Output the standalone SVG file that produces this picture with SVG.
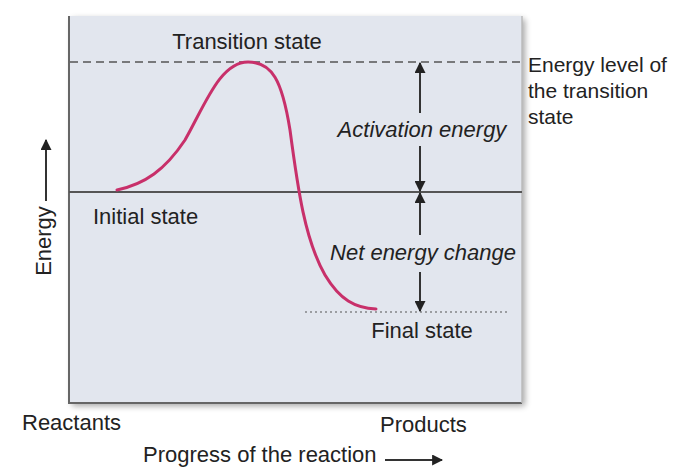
<svg xmlns="http://www.w3.org/2000/svg" width="673" height="472" viewBox="0 0 673 472">
<defs>
<marker id="ah" viewBox="0 0 10 10" refX="9" refY="5" markerWidth="11" markerHeight="11" markerUnits="userSpaceOnUse" orient="auto"><path d="M0,0 L10,5 L0,10 z" fill="#222"/></marker>
<marker id="ahs" viewBox="0 0 10 10" refX="9" refY="5" markerWidth="11" markerHeight="11" markerUnits="userSpaceOnUse" orient="auto"><path d="M0,0 L10,5 L0,10 z" fill="#222"/></marker>
<filter id="sh" x="-5%" y="-5%" width="115%" height="115%"><feGaussianBlur in="SourceAlpha" stdDeviation="3"/><feOffset dx="3" dy="3"/><feComponentTransfer><feFuncA type="linear" slope="0.35"/></feComponentTransfer><feMerge><feMergeNode/><feMergeNode in="SourceGraphic"/></feMerge></filter>
</defs>
<style>
text{font-family:"Liberation Sans",Arial,sans-serif;fill:#222;font-size:22px}
.it{font-style:italic}
.side{font-size:21px}
.ln{stroke:#555;fill:none}
.ar{stroke:#333;stroke-width:2;fill:none}
</style>
<rect width="673" height="472" fill="#fff"/>
<g id="panel">
<rect x="69" y="16" width="453" height="387" fill="#e2e6ee" filter="url(#sh)"/>
<line x1="69" y1="16" x2="69" y2="403" stroke="#666" stroke-width="2"/>
<line x1="68" y1="403" x2="522" y2="403" stroke="#666" stroke-width="2"/>
<line x1="522" y1="16" x2="522" y2="403" stroke="#bbb" stroke-width="1.5"/>
</g>
<g id="connectors">
<line class="ln" x1="70" y1="62" x2="520" y2="62" stroke-width="1.3" stroke-dasharray="8,5"/>
<line class="ln" x1="69" y1="192" x2="522" y2="192" stroke-width="2"/>
<line class="ln" x1="305" y1="312" x2="510" y2="312" stroke-width="1.2" stroke-dasharray="2,3"/>
<path id="curve" d="M117,190 C145,184 165,170 185,140 C205,105 220,62 248,62 C272,62 282,80 290,130 C298,190 305,240 325,275 C340,300 355,308 376,309" fill="none" stroke="#c8306a" stroke-width="3" stroke-linecap="round"/>
<line class="ar" x1="420" y1="113" x2="420" y2="63" marker-end="url(#ah)"/>
<line class="ar" x1="420" y1="146" x2="420" y2="191" marker-end="url(#ah)"/>
<line class="ar" x1="420" y1="235" x2="420" y2="193" marker-end="url(#ah)"/>
<line class="ar" x1="420" y1="272" x2="420" y2="311" marker-end="url(#ah)"/>
<line class="ar" x1="46" y1="201" x2="46" y2="140" marker-end="url(#ah)"/>
<line class="ar" x1="385" y1="460" x2="442" y2="460" stroke-width="2.5" marker-end="url(#ahs)"/>
</g>
<g id="labels">
<text x="247" y="49" text-anchor="middle">Transition state</text>
<text class="side" x="528" y="72">Energy level of</text>
<text class="side" x="528" y="98">the transition</text>
<text class="side" x="528" y="124">state</text>
<text class="it" x="422" y="137" text-anchor="middle">Activation energy</text>
<text x="93" y="224">Initial state</text>
<text class="it" x="423" y="260" text-anchor="middle">Net energy change</text>
<text x="422" y="338" text-anchor="middle">Final state</text>
<text x="22" y="430">Reactants</text>
<text x="380" y="432">Products</text>
<text x="143" y="462">Progress of the reaction</text>
<text x="0" y="0" text-anchor="middle" transform="translate(51,241) rotate(-90)">Energy</text>
</g>
</svg>
